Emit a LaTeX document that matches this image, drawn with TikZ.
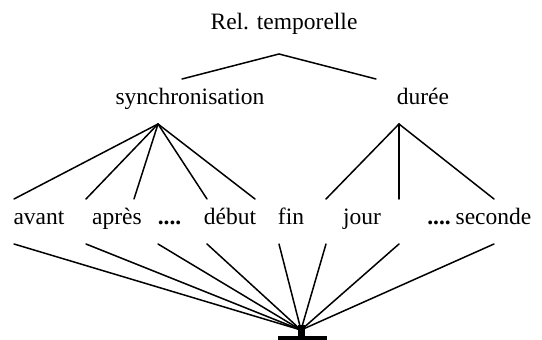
\documentclass[tikz,border=0pt]{standalone}
\usepackage{fontspec}
\setmainfont{Liberation Serif}
\begin{document}
\begin{tikzpicture}[x=1pt,y=-1pt,
  lbl/.style={anchor=base,inner sep=0pt,font=\fontsize{23.5}{28}\selectfont},
  dts/.style={anchor=base,inner sep=0pt,font=\fontsize{23.5}{28}\selectfont\bfseries},
  edge/.style={line width=1.5pt,line cap=round}]
\useasboundingbox (0,0) rectangle (542,340);
% labels
\node[lbl] (rel) at (284,30) {Rel. temporelle};
\node[lbl] (sync) at (190,104.5) {synchronisation};
\node[lbl] (dur) at (423,104.5) {durée};
\node[lbl] (avant) at (39,224) {avant};
\node[lbl] (apres) at (117,224) {après};
\node[dts] (dots1) at (169.5,224) {....};
\node[lbl] (debut) at (230,224) {début};
\node[lbl] (fin) at (291,224) {fin};
\node[lbl] (jour) at (362,224) {jour};
\node[dts] (dots2) at (439,224) {....};
\node[lbl] (sec) at (493.5,224) {seconde};
% coordinates
\coordinate (topL) at (182,79);
\coordinate (topA) at (279,54);
\coordinate (topR) at (376,79);
\coordinate (sA) at (158,124);
\coordinate (dA) at (399,124);
\coordinate (t1) at (14,199);
\coordinate (t2) at (86,199);
\coordinate (t3) at (134,199);
\coordinate (t4) at (207,199);
\coordinate (t5) at (255,199);
\coordinate (t6) at (326,199);
\coordinate (t7) at (399,199);
\coordinate (t8) at (494,199);
\coordinate (b1) at (14,244);
\coordinate (b2) at (86,244);
\coordinate (b3) at (158,244);
\coordinate (b4) at (207,244);
\coordinate (b5) at (279,244);
\coordinate (b6) at (326,244);
\coordinate (b7) at (399,244);
\coordinate (b8) at (494,244);
\coordinate (conv) at (301,330);
% top
\draw[edge] (topL) -- (topA) -- (topR);
% synchronisation
\foreach \t in {t1,t2,t3,t4,t5} \draw[edge] (sA) -- (\t);
\foreach \t in {t6,t7,t8} \draw[edge] (dA) -- (\t);
\foreach \b in {b1,b2,b3,b4,b5,b6,b7,b8} \draw[edge] (\b) -- (conv);
% base
\fill (298,325) rectangle (305,337);
\fill (278,336) rectangle (327,340);
\end{tikzpicture}
\end{document}
